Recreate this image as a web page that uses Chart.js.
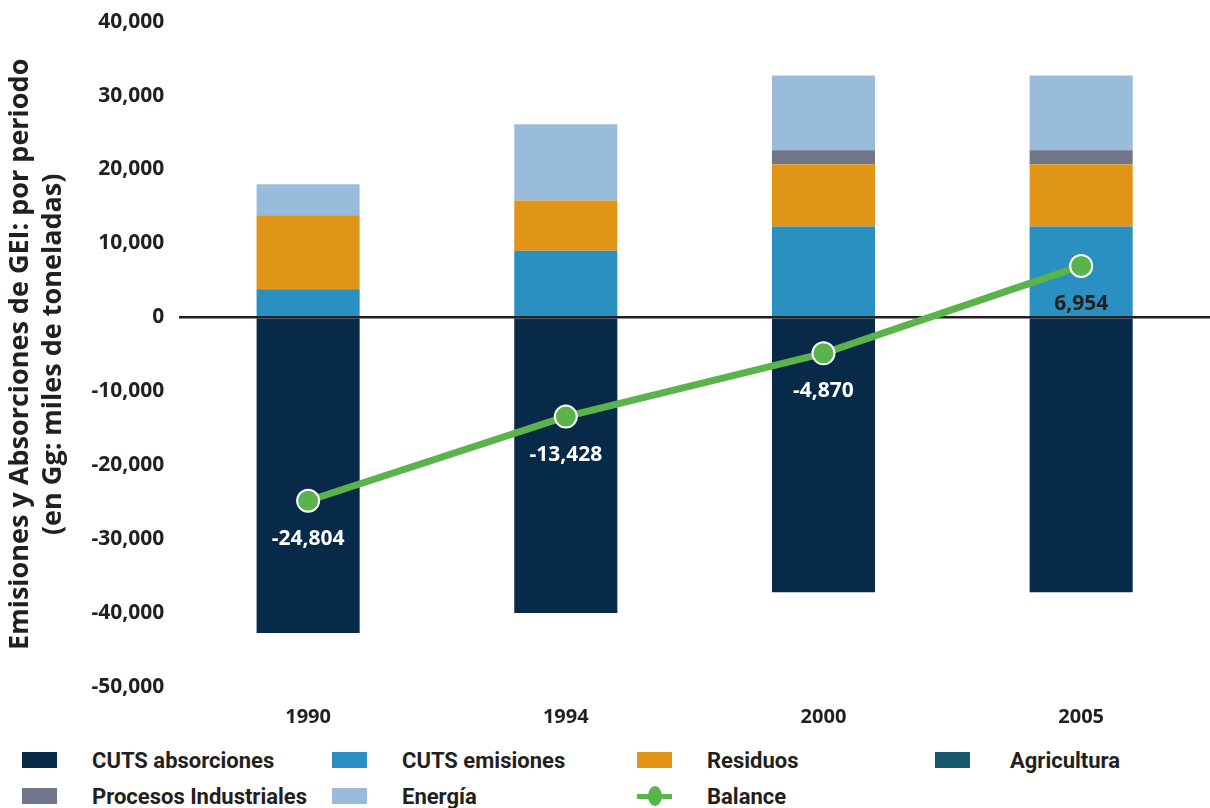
<!DOCTYPE html>
<html>
<head>
<meta charset="utf-8">
<script src="https://cdn.jsdelivr.net/npm/chart.js@4.4.0/dist/chart.umd.min.js"></script>
<style>
  body { margin: 0; background: #fff; font-family: "Open Sans", sans-serif; }
  #wrap { position: relative; width: 1210px; height: 808px; overflow: hidden; }
  #chart { display: block; margin-top: -6px; }
  #legend {
    position: absolute; left: 22px; top: 746px;
    display: grid; grid-template-columns: 310px 305px 298px 270px;
    row-gap: 8px;
    font-family: "Liberation Sans Narrow", "Roboto", sans-serif;
    font-weight: bold; font-size: 22px; color: #231f20;
  }
  .item { display: flex; align-items: center; height: 28px; }
  .sw { width: 35px; height: 16px; margin-right: 35px; flex: none; }
  .item:nth-child(4) .sw { margin-right: 40px; }
  .ln { width: 35px; height: 16px; margin-right: 35px; flex: none; position: relative; }
  .ln:before { content: ""; position: absolute; left: 0; right: 0; top: 6px; height: 5px; background: #5ab34b; }
  .ln:after { content: ""; position: absolute; left: 11px; top: -2px; width: 14px; height: 20px; border-radius: 50%; background: #5ab34b; }
</style>
</head>
<body>
<div id="wrap">
  <canvas id="chart" width="1223" height="745"></canvas>
  <div id="legend"></div>
</div>
<script>
const years = ["1990", "1994", "2000", "2005"];
const cutsAbsorciones = [-42700, -40000, -37200, -37200];
const cutsEmisiones = [3800, 9000, 12300, 12300];
const agricultura = [0, 0, 0, 0];
const residuos = [10000, 6800, 8400, 8400];
const procesos = [0, 0, 1900, 1900];
const energia = [4200, 10300, 10100, 10100];
const balance = [-24804, -13428, -4870, 6954];
const yTicks = [40000, 30000, 20000, 10000, 0, -10000, -20000, -30000, -40000, -50000];

const fontTick = { family: "Open Sans", weight: "bold", size: 21 };

function bar(label, data, color) {
  return { type: "bar", label: label, data: data, backgroundColor: color,
    stack: "s", barPercentage: 0.4, categoryPercentage: 1, order: 2 };
}

const datasets = [
  bar("CUTS absorciones", cutsAbsorciones, "#062a48"),
  bar("CUTS emisiones", cutsEmisiones, "#2a8fc1"),
  bar("Agricultura", agricultura, "#17566f"),
  bar("Residuos", residuos, "#e09517"),
  bar("Procesos Industriales", procesos, "#717589"),
  bar("Energía", energia, "#99bcdd"),
  {
    type: "line", label: "Balance", data: balance, order: 1,
    borderColor: "#5ab34b", borderWidth: 7, backgroundColor: "#5ab34b",
    pointRadius: 11, pointBorderColor: "#fff", pointBorderWidth: 2,
    pointHoverRadius: 11, tension: 0
  }
];

const balanceLabels = {
  id: "balanceLabels",
  afterDatasetsDraw(chart) {
    const ctx = chart.ctx;
    const meta = chart.getDatasetMeta(6);
    ctx.save();
    ctx.font = "bold 21px 'Open Sans'";
    ctx.textAlign = "center";
    ctx.textBaseline = "middle";
    meta.data.forEach(function (pt, i) {
      const v = balance[i];
      ctx.fillStyle = v < 0 ? "#ffffff" : "#231f20";
      ctx.fillText(v.toLocaleString("en-US"), pt.x, pt.y + 38);
    });
    ctx.restore();
  }
};

new Chart(document.getElementById("chart").getContext("2d"), {
  data: { labels: years, datasets: datasets },
  options: {
    responsive: false,
    animation: false,
    layout: { padding: { top: 2, right: 0, left: 3, bottom: 0 } },
    plugins: { legend: { display: false }, tooltip: { enabled: false } },
    scales: {
      x: {
        stacked: true,
        grid: { display: false },
        border: { display: false },
        ticks: { color: "#231f20", font: { family: "Open Sans", weight: "bold", size: 20 }, padding: 10 }
      },
      y: {
        stacked: true,
        min: -50000, max: 40000,
        afterBuildTicks(axis) { axis.ticks = yTicks.map(function (v) { return { value: v }; }); },
        grid: {
          color: function (c) { return c.tick && c.tick.value === 0 ? "#231f20" : "transparent"; },
          lineWidth: 2.5,
          drawTicks: false
        },
        border: { display: false },
        ticks: {
          color: "#231f20", font: fontTick, padding: 15,
          callback: function (v) { return v.toLocaleString("en-US"); }
        },
        title: {
          display: true,
          text: ["Emisiones y Absorciones de GEI: por periodo", "(en Gg: miles de toneladas)"],
          color: "#231f20",
          font: { family: "Open Sans", weight: "bold", size: 27, lineHeight: 1.25 },
          padding: { top: 0, bottom: 6 }
        }
      }
    }
  },
  plugins: [balanceLabels]
});

// legend below the chart
const legendOrder = [0, 1, 3, 2, 4, 5, 6];
const legendEl = document.getElementById("legend");
legendOrder.forEach(function (i) {
  const ds = datasets[i];
  const item = document.createElement("div");
  item.className = "item";
  const sw = document.createElement("span");
  if (ds.type === "line") {
    sw.className = "ln";
  } else {
    sw.className = "sw";
    sw.style.background = ds.backgroundColor;
  }
  const tx = document.createElement("span");
  tx.textContent = ds.label;
  item.appendChild(sw);
  item.appendChild(tx);
  legendEl.appendChild(item);
});
</script>
</body>
</html>
